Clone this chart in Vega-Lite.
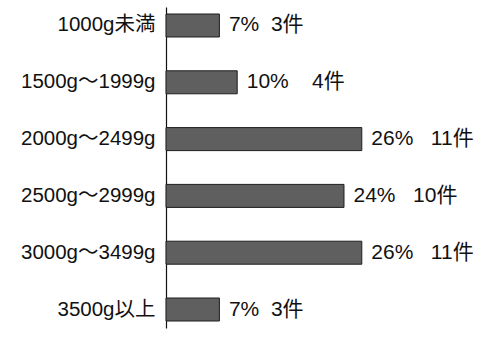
{
  "$schema": "https://vega.github.io/schema/vega-lite/v6.json",
  "autosize": "none",
  "width": 330,
  "height": 321,
  "padding": {"left": 166, "top": 7, "right": 0, "bottom": 10},
  "background": "white",
  "config": {
    "view": {"stroke": null},
    "font": "Liberation Sans, Noto Sans CJK JP"
  },
  "data": {
    "values": [
      {"range": "1000g未満", "count": 3, "label": "7%\u00a0\u00a03件"},
      {"range": "1500g〜1999g", "count": 4, "label": "10%\u00a0\u00a0\u00a0\u00a04件"},
      {"range": "2000g〜2499g", "count": 11, "label": "26%\u00a0\u00a0\u00a011件"},
      {"range": "2500g〜2999g", "count": 10, "label": "24%\u00a0\u00a0\u00a010件"},
      {"range": "3000g〜3499g", "count": 11, "label": "26%\u00a0\u00a0\u00a011件"},
      {"range": "3500g以上", "count": 3, "label": "7%\u00a0\u00a03件"}
    ]
  },
  "encoding": {
    "y": {
      "field": "range",
      "type": "nominal",
      "sort": null,
      "scale": {"paddingInner": 0.595, "paddingOuter": 0.123},
      "axis": {
        "title": null,
        "ticks": false,
        "domainColor": "#111",
        "domainWidth": 1.2,
        "labelFont": "Liberation Sans, Noto Sans CJK JP",
        "labelFontSize": 20.5,
        "labelColor": "#111",
        "labelPadding": 11,
        "labelLimit": 200
      }
    },
    "x": {
      "field": "count",
      "type": "quantitative",
      "scale": {"domain": [0, 18.54], "nice": false, "zero": true},
      "axis": null
    }
  },
  "layer": [
    {
      "mark": {"type": "bar", "fill": "#5f5f5f", "stroke": "#1e1e1e", "strokeWidth": 1}
    },
    {
      "mark": {
        "type": "text",
        "align": "left",
        "baseline": "middle",
        "dx": 9.5,
        "fontSize": 21,
        "color": "#111",
        "font": "Liberation Sans, Noto Sans CJK JP"
      },
      "encoding": {"text": {"field": "label"}}
    }
  ]
}
